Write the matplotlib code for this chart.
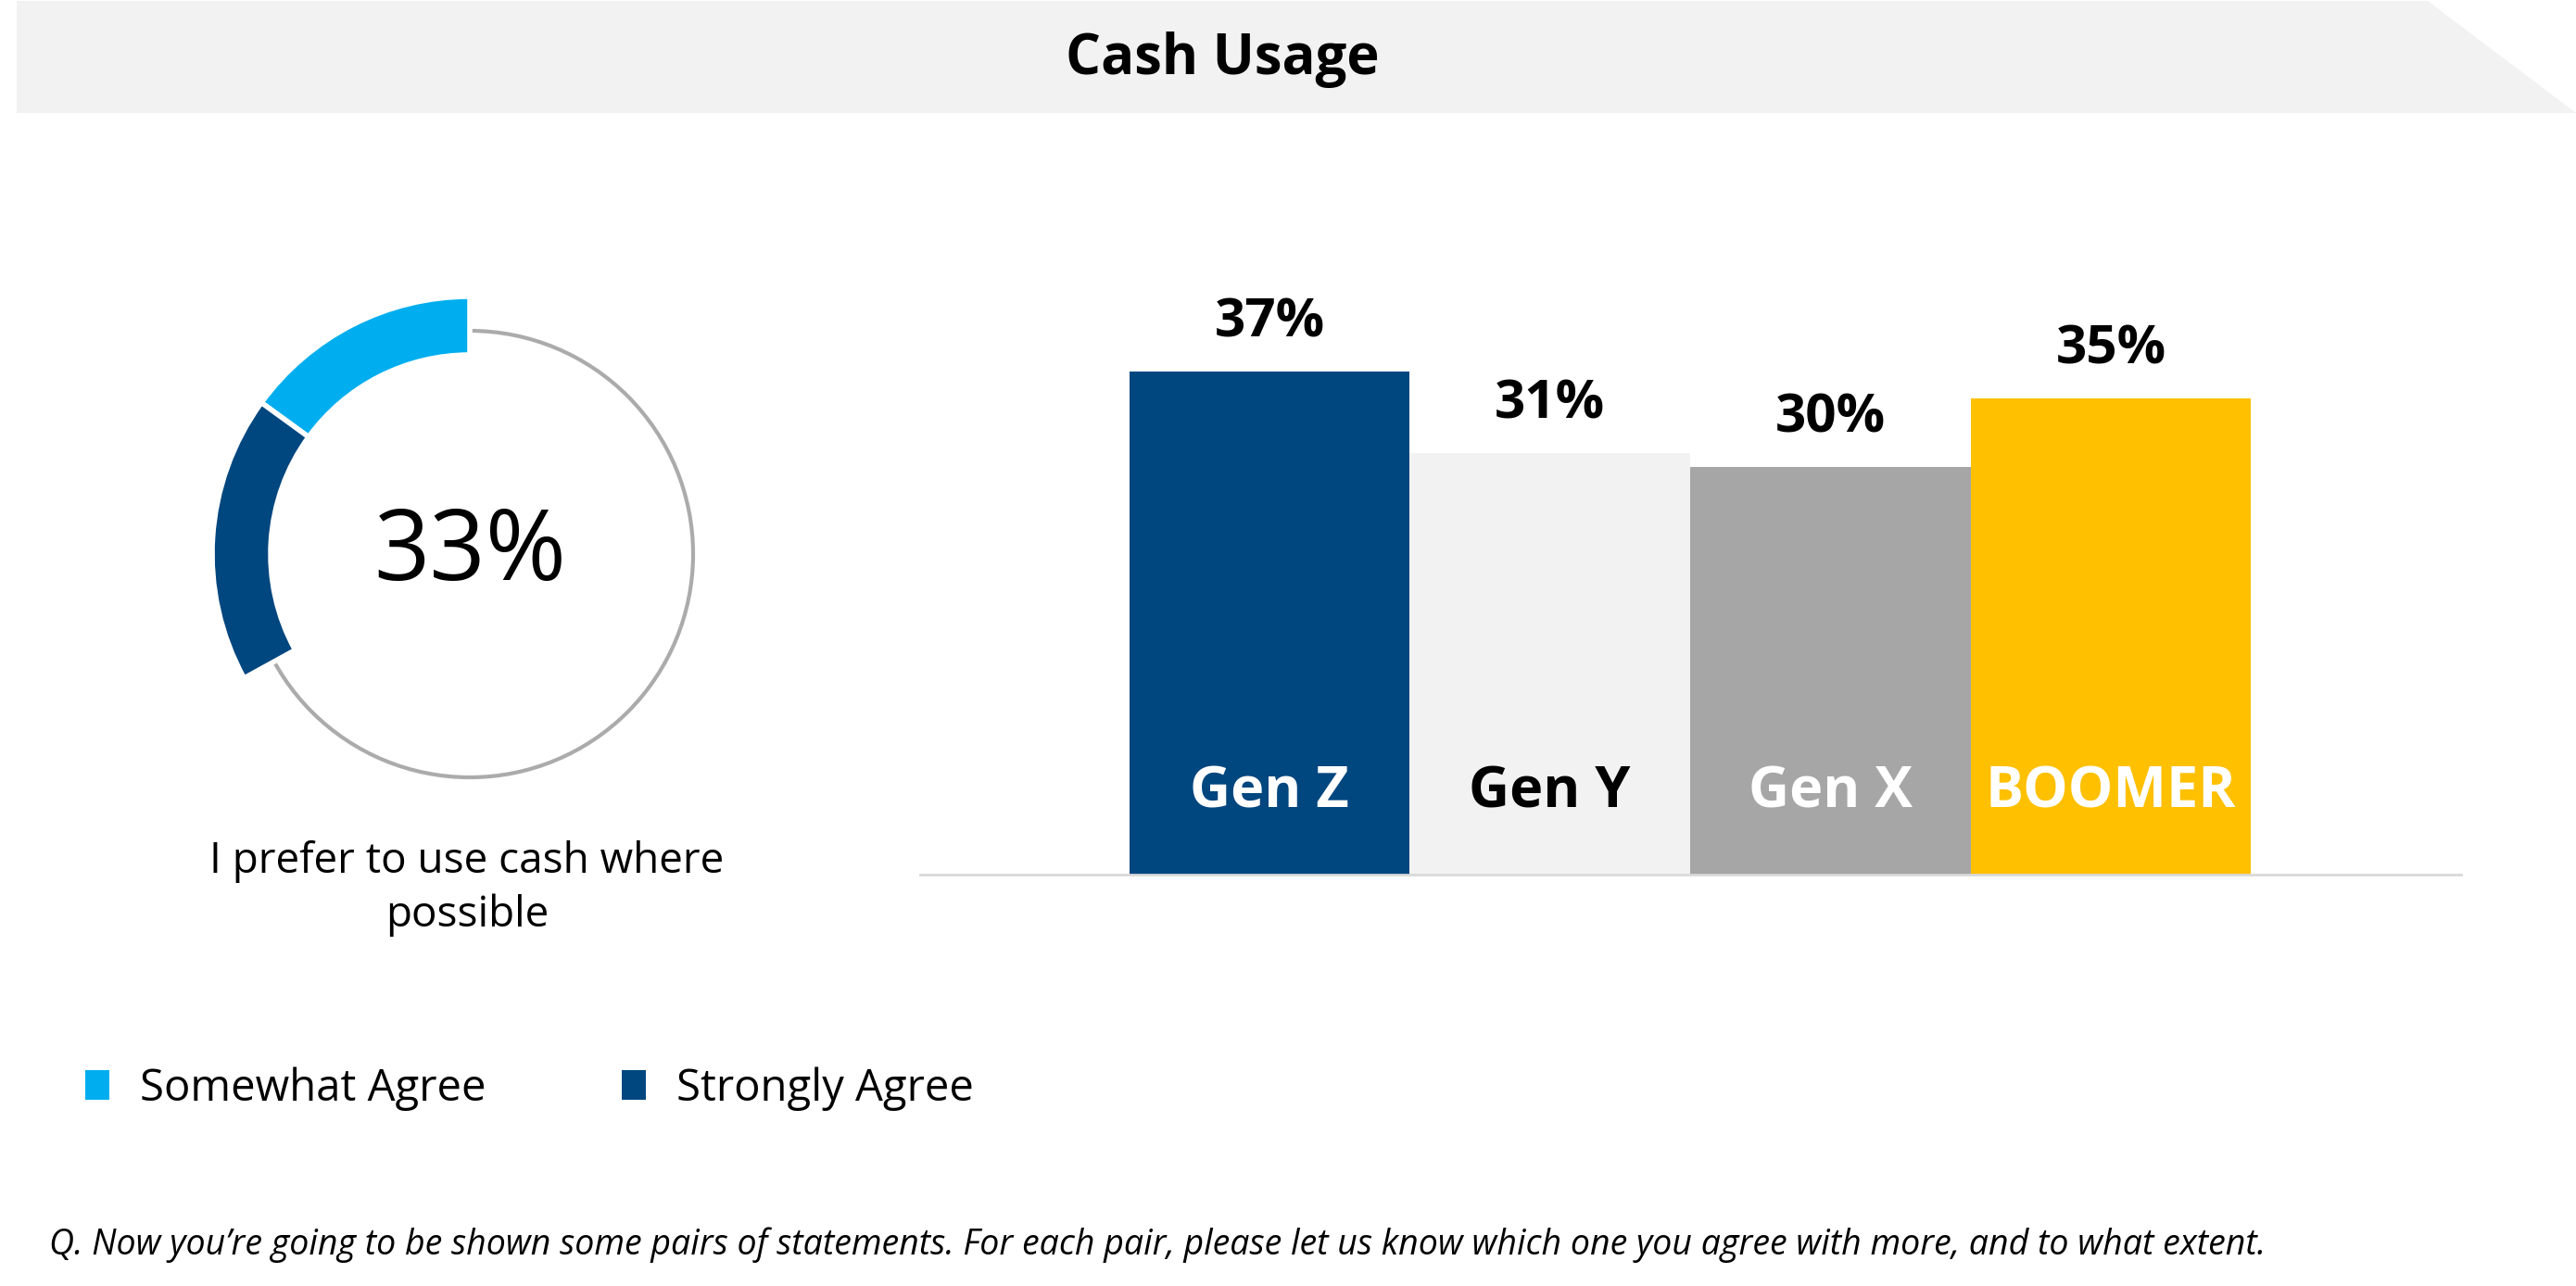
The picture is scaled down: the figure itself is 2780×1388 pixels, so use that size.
import matplotlib.pyplot as plt
from matplotlib.patches import Polygon, Circle, Patch

W, H = 2780, 1388

title = "Cash Usage"
donut_labels = ["Somewhat Agree", "Strongly Agree"]
donut_values = [15, 18]
donut_total = "33%"
donut_caption = "I prefer to use cash where\npossible"

generations = ["Gen Z", "Gen Y", "Gen X", "BOOMER"]
gen_values = [37, 31, 30, 35]

footnote = ("Q. Now you\u2019re going to be shown some pairs of statements. For each pair, "
            "please let us know which one you agree with more, and to what extent.")

LIGHT_BLUE = "#00AEEF"
DARK_BLUE = "#00467F"
bar_colors = [DARK_BLUE, "#F2F2F2", "#A6A6A6", "#FFC000"]
name_colors = ["white", "black", "white", "white"]

plt.rcParams["font.family"] = ["Open Sans", "DejaVu Sans"]


def fx(px):
    return px / W


def fy(py):
    return 1 - py / H


fig = plt.figure(figsize=(W / 100, H / 100), dpi=100)

# header banner
banner = Polygon([(fx(18), fy(1)), (fx(2620), fy(1)), (fx(2780), fy(122)), (fx(18), fy(122))],
                 closed=True, facecolor="#F2F2F2", edgecolor="none", transform=fig.transFigure)
fig.add_artist(banner)
fig.text(fx(1319), fy(80), title, ha="center", va="baseline", fontsize=43,
         fontweight="bold")

# ---- donut ----
cx, cy, half = 507, 598, 300
ax_d = fig.add_axes([fx(cx - half), fy(cy + half), 2 * half / W, 2 * half / H])
ax_d.set_xlim(-1, 1)
ax_d.set_ylim(-1, 1)
ax_d.set_aspect("equal")
ax_d.axis("off")

ax_d.add_patch(Circle((0, 0), 241 / half, fill=False, edgecolor="#ABABAB", linewidth=3, zorder=1))
rest = 100 - sum(donut_values)
wedges, _ = ax_d.pie(donut_values + [rest], colors=[LIGHT_BLUE, DARK_BLUE, "none"],
                     startangle=90, counterclock=True, radius=278 / half,
                     wedgeprops=dict(width=63 / half, edgecolor="white", linewidth=4))
wedges[2].set_visible(False)
for w in wedges:
    w.set_zorder(2)
ax_d.set_xlim(-1, 1)
ax_d.set_ylim(-1, 1)
ax_d.text(0, 0, donut_total, ha="center", va="center", fontsize=76)

fig.text(fx(504), fy(959), donut_caption, ha="center", va="center", fontsize=33,
         linespacing=1.3)

# legend
handles = [Patch(facecolor=LIGHT_BLUE), Patch(facecolor=DARK_BLUE)]
fig.legend(handles, donut_labels, loc="center left", bbox_to_anchor=(fx(92), fy(1175)),
           ncol=2, frameon=False, fontsize=34, handlelength=0.55, handleheight=0.68,
           handletextpad=0.7, columnspacing=3.1, borderpad=0, borderaxespad=0)

# ---- bars ----
unit = 302.7
x0 = 1370
base = 944
px_per = 14.68
top = 300
ax_b = fig.add_axes([fx(993), fy(base), (2656 - 993) / W, (base - top) / H])
xs = list(range(len(generations)))
ax_b.bar(xs, gen_values, width=1.0, color=bar_colors, edgecolor="none")
ax_b.set_xlim((993 - x0) / unit, (2656 - x0) / unit)
ax_b.set_ylim(0, (base - top) / px_per)
for s in ["top", "right", "left"]:
    ax_b.spines[s].set_visible(False)
ax_b.spines["bottom"].set_color("#D9D9D9")
ax_b.spines["bottom"].set_linewidth(2)
ax_b.set_xticks([])
ax_b.set_yticks([])

for x, v, name, c in zip(xs, gen_values, generations, name_colors):
    ax_b.annotate(f"{v}%", (x, v), xytext=(0, 27), textcoords="offset points",
                  ha="center", va="baseline", fontsize=42, fontweight="bold")
    ax_b.text(x, 72 / px_per, name, ha="center", va="baseline", fontsize=44,
              fontweight="bold", color=c)

fig.text(fx(53), fy(1344), footnote, ha="left", va="center", fontsize=27, style="italic")

fig.savefig("out.png", dpi=100)
